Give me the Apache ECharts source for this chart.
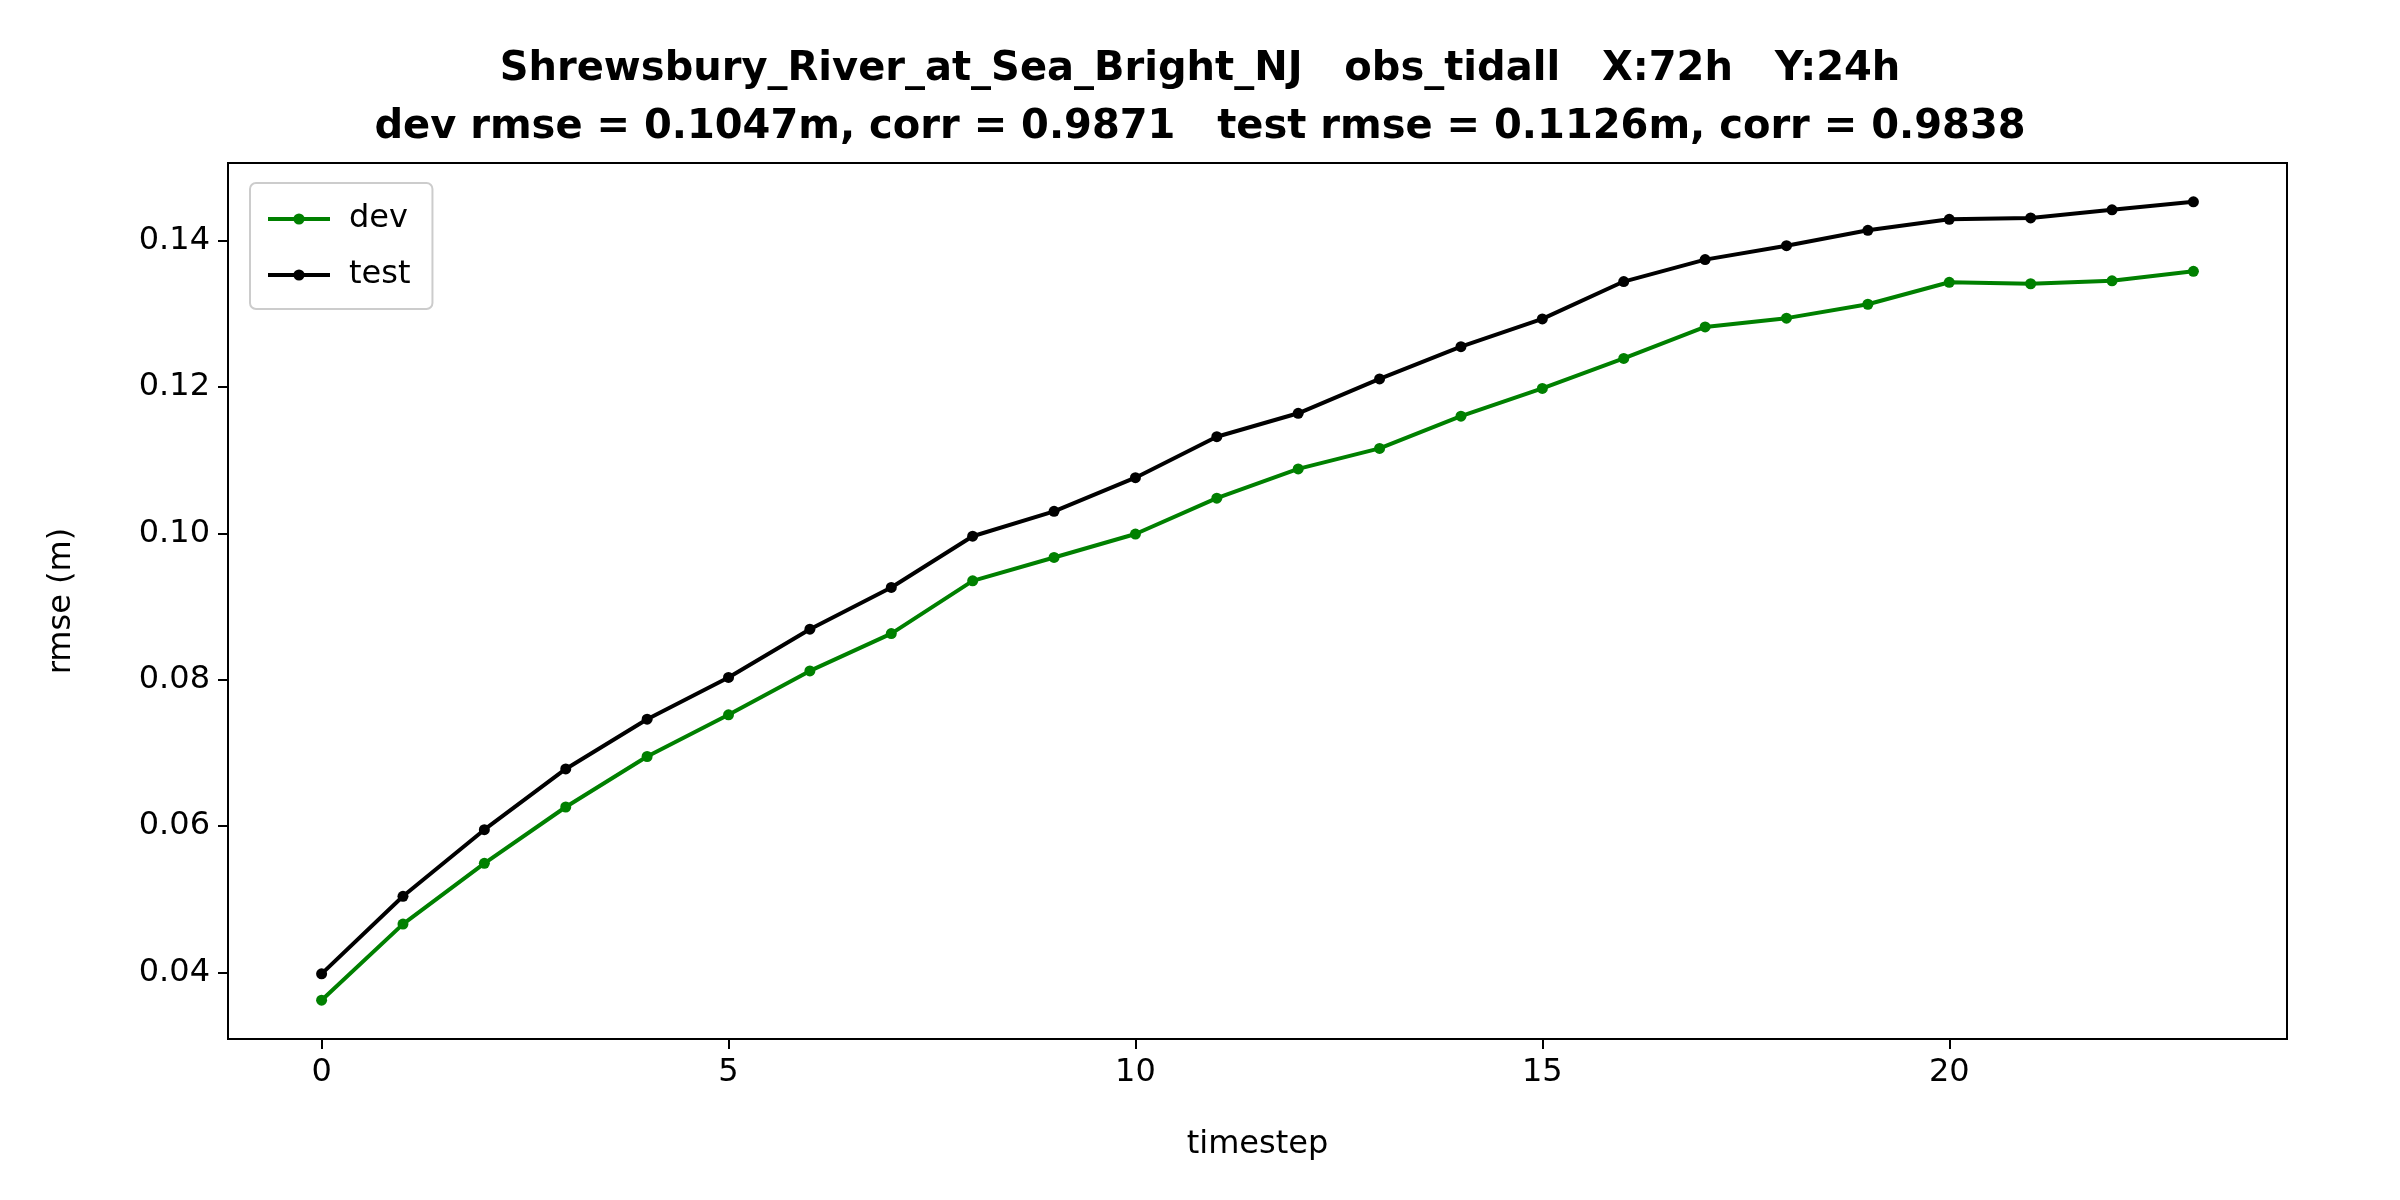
<!DOCTYPE html>
<html><head><meta charset="utf-8">
<script src="https://cdn.jsdelivr.net/npm/echarts@6/dist/echarts.min.js"></script>
<style>html,body{margin:0;padding:0;background:#fff}#c{width:2400px;height:1200px}</style>
</head><body><div id="c"></div>
<script>
const timesteps = [0,1,2,3,4,5,6,7,8,9,10,11,12,13,14,15,16,17,18,19,20,21,22,23];
const devRmse = [0.0362,0.0466,0.0549,0.0626,0.0695,0.0752,0.0812,0.0863,0.0935,0.0967,0.0999,0.1048,0.1088,0.1116,0.1160,0.1198,0.1239,0.1282,0.1294,0.1313,0.1343,0.1341,0.1345,0.1358];
const testRmse = [0.0398,0.0504,0.0595,0.0678,0.0746,0.0803,0.0869,0.0926,0.0996,0.1030,0.1076,0.1132,0.1164,0.1211,0.1255,0.1293,0.1344,0.1374,0.1393,0.1414,0.1429,0.1431,0.1442,0.1453];
const xTicks = [0,5,10,15,20];
const yTicks = [0.04,0.06,0.08,0.10,0.12,0.14];
const titleText = 'Shrewsbury_River_at_Sea_Bright_NJ   obs_tidall   X:72h   Y:24h\ndev rmse = 0.1047m, corr = 0.9871   test rmse = 0.1126m, corr = 0.9838';
const F = 'DejaVu Sans';
const chart = echarts.init(document.getElementById('c'));
chart.setOption({
  animation:false,
  textStyle:{fontFamily:F},
  title:{text:titleText,left:'center',top:36,textStyle:{fontFamily:F,fontWeight:'bold',fontSize:40,lineHeight:58,color:'#000'}},
  grid:{left:228,right:113,top:163,bottom:161,show:true,borderColor:'#000',borderWidth:2},
  legend:{orient:'vertical',left:250,top:183,itemWidth:62,itemHeight:14,itemGap:24,padding:[20,22,18,16],
    borderColor:'#ccc',borderWidth:2,borderRadius:6,textStyle:{fontFamily:F,fontSize:32,color:'#000',padding:[0,0,0,14]},
    itemStyle:{borderWidth:0},lineStyle:{width:4},data:['dev','test']},
  xAxis:{type:'value',min:-1.15,max:24.15,name:'timestep',nameLocation:'middle',nameGap:90,
    nameTextStyle:{fontSize:32,color:'#000'},axisLine:{onZero:false,lineStyle:{color:'#000',width:2}},splitLine:{show:false},
    axisTick:{customValues:xTicks,length:10,lineStyle:{color:'#000',width:2}},
    axisLabel:{customValues:xTicks,fontSize:32,color:'#000',margin:18}},
  yAxis:{type:'value',min:0.0309,max:0.1506,name:'rmse (m)',nameLocation:'middle',nameGap:150,
    nameTextStyle:{fontSize:32,color:'#000'},axisLine:{show:true,onZero:false,lineStyle:{color:'#000',width:2}},splitLine:{show:false},
    axisTick:{show:true,customValues:yTicks,length:10,lineStyle:{color:'#000',width:2}},
    axisLabel:{customValues:yTicks,fontSize:32,color:'#000',margin:18,formatter:v=>v.toFixed(2)}},
  series:[
    {name:'dev',type:'line',data:timesteps.map((t,i)=>[t,devRmse[i]]),color:'#008000',symbol:'circle',symbolSize:11,lineStyle:{width:4}},
    {name:'test',type:'line',data:timesteps.map((t,i)=>[t,testRmse[i]]),color:'#000000',symbol:'circle',symbolSize:11,lineStyle:{width:4}}
  ]
});
</script></body></html>
